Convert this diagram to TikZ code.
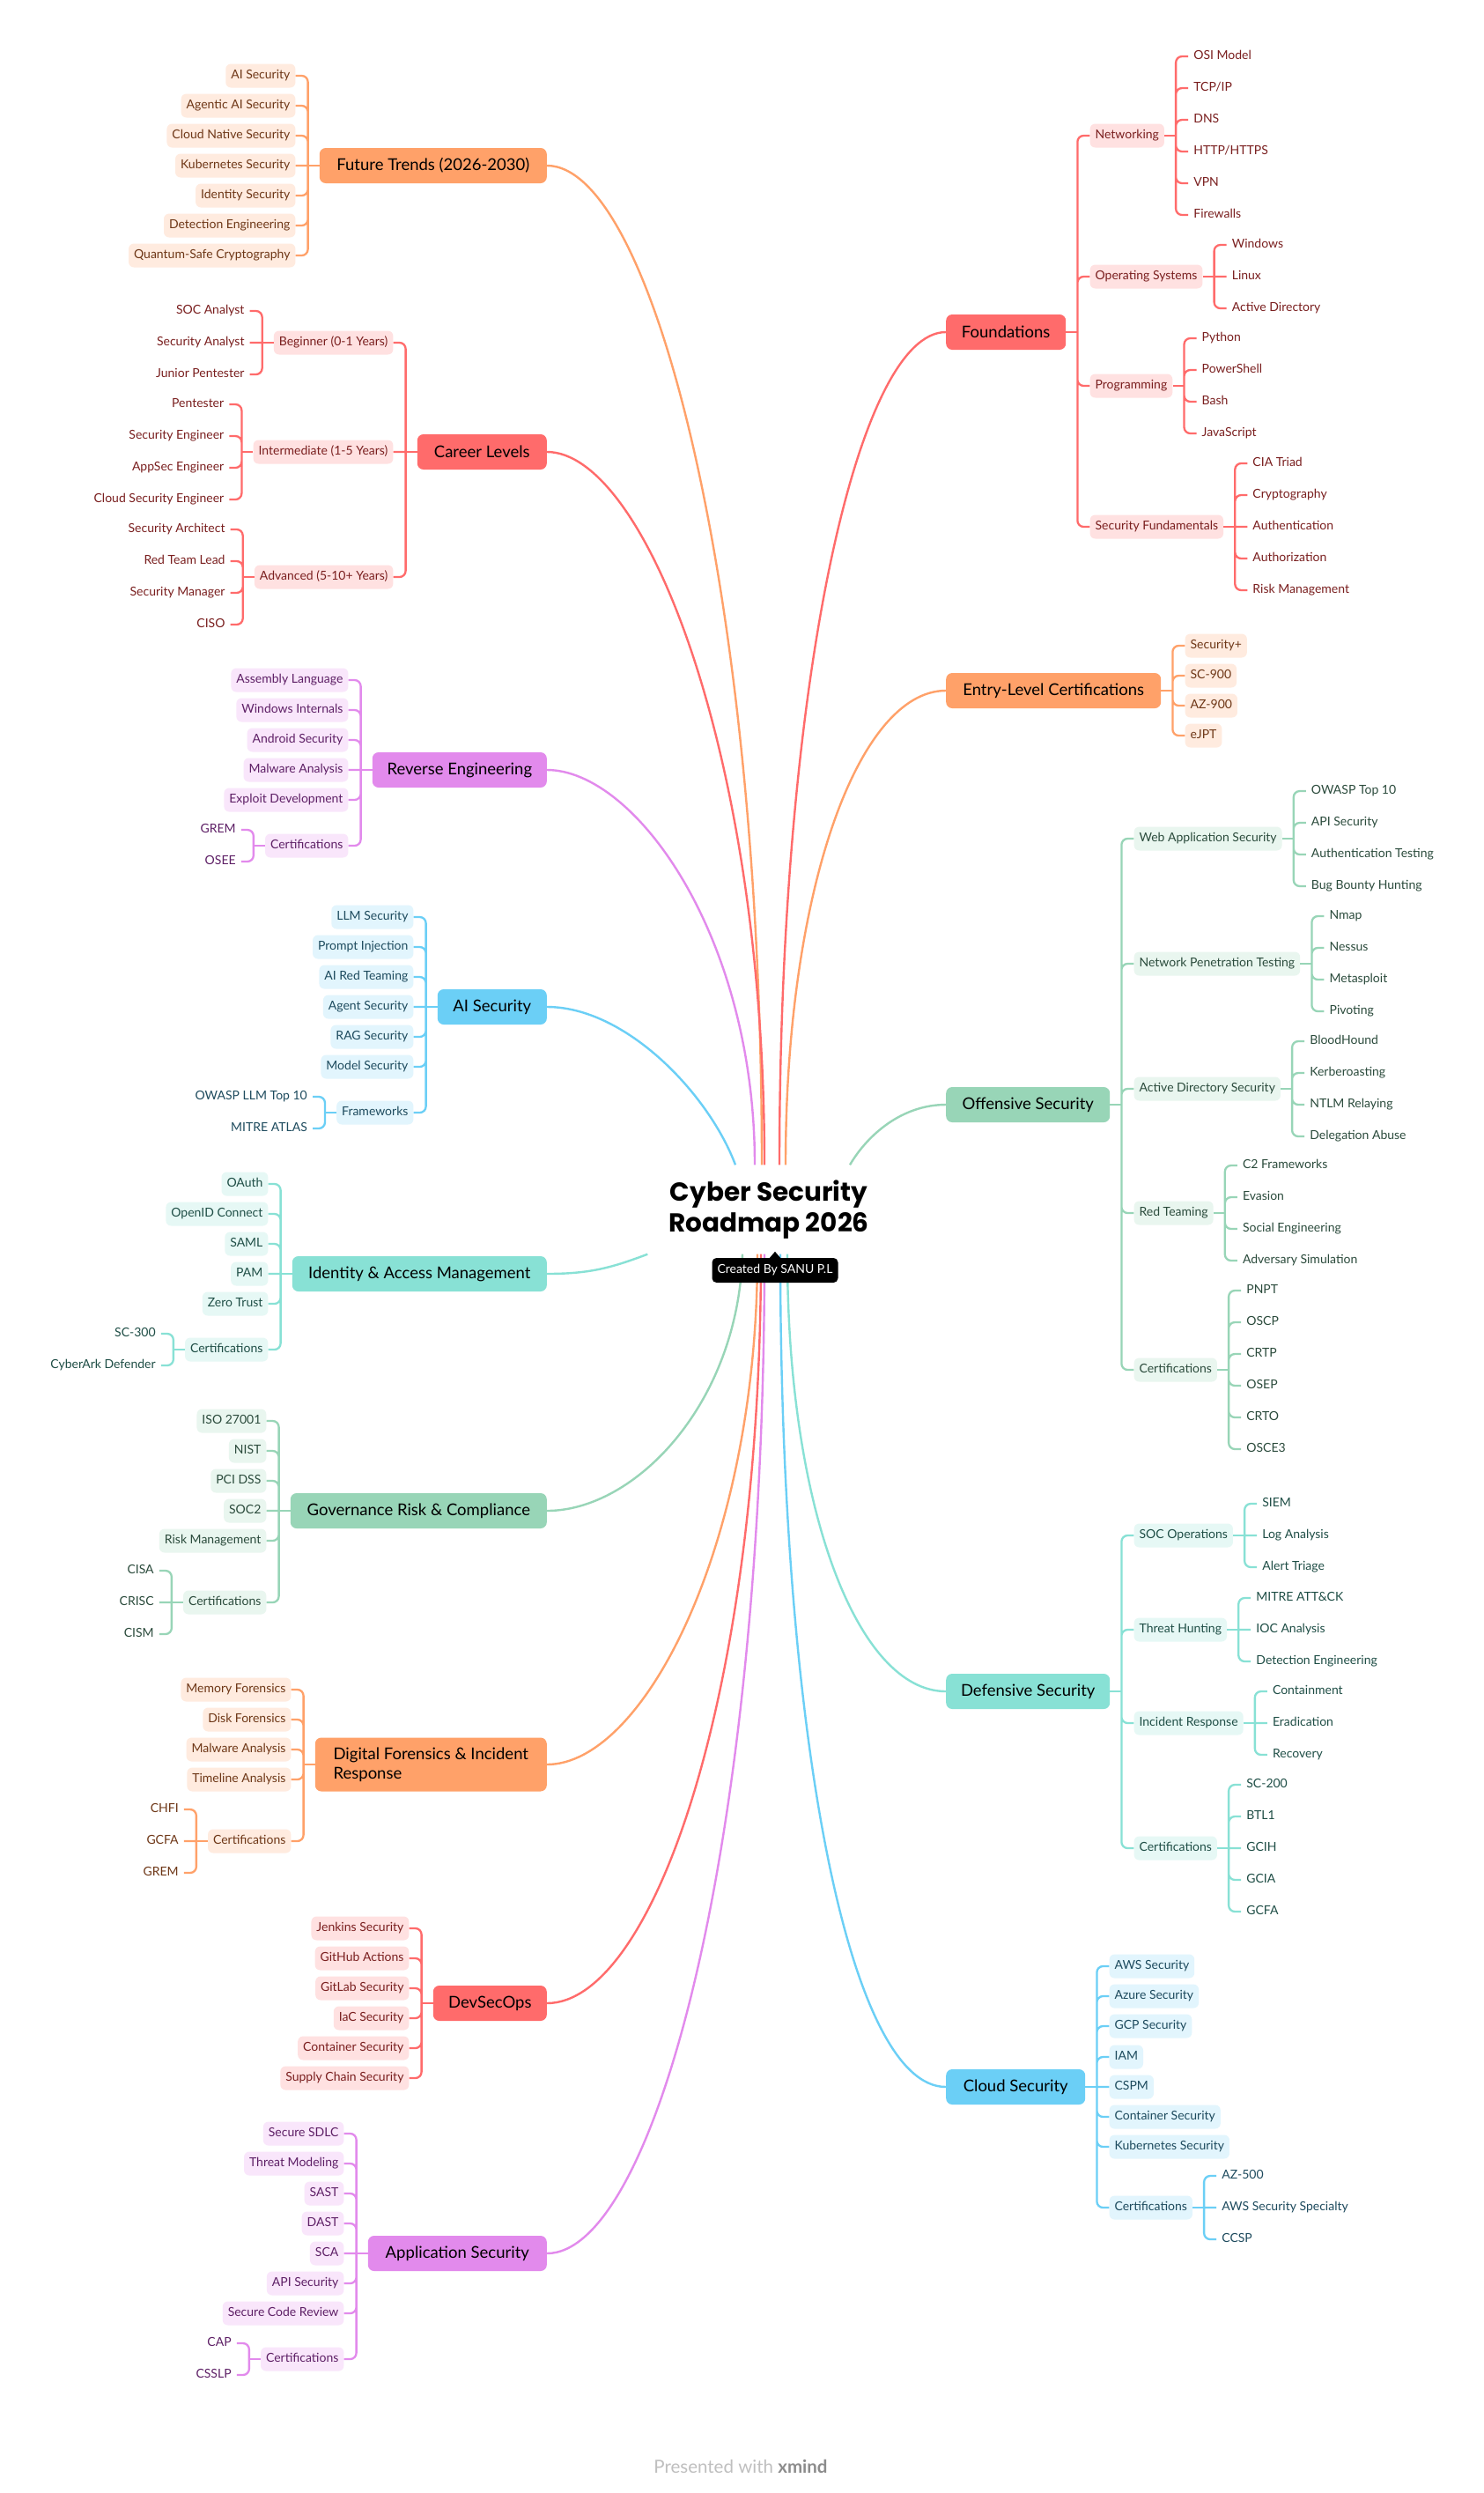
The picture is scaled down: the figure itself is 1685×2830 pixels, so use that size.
\documentclass[tikz,border=0pt]{standalone}
\usepackage{fontspec}
\setmainfont{Lato}
\newfontfamily\titlefont{Poppins}
\definecolor{Rm}{HTML}{FF6B6B}\definecolor{Rl}{HTML}{FFE1E1}\definecolor{Rt}{HTML}{7A1F1F}
\definecolor{Om}{HTML}{FFA169}\definecolor{Ol}{HTML}{FFEBDF}\definecolor{Ot}{HTML}{6E3717}
\definecolor{Pm}{HTML}{E28AEC}\definecolor{Pl}{HTML}{F9E6FB}\definecolor{Pt}{HTML}{5E2066}
\definecolor{Bm}{HTML}{6BCFF6}\definecolor{Bl}{HTML}{E2F5FD}\definecolor{Bt}{HTML}{1E4B5E}
\definecolor{Tm}{HTML}{88E1D5}\definecolor{Tl}{HTML}{E6F8F5}\definecolor{Tt}{HTML}{1F4E46}
\definecolor{Gm}{HTML}{98D5B7}\definecolor{Gl}{HTML}{E9F6EF}\definecolor{Gt}{HTML}{2B4B3C}
\newcommand\topicsize{\fontsize{18.5}{22}\selectfont}
\newcommand\itemsize{\fontsize{14}{17}\selectfont}

\begin{document}
\begin{tikzpicture}[x=1pt,y=-1pt,
  topic/.style={fill=#1m,rounded corners=7pt,minimum height=40pt,inner xsep=15pt,font=\topicsize},
  pill/.style={fill=#1l,text=#1t,rounded corners=6pt,minimum height=27pt,inner xsep=6pt,inner ysep=0pt,text height=11pt,text depth=3.5pt,font=\itemsize},
  leaf/.style={text=#1t,inner xsep=6pt,inner ysep=0pt,text height=11pt,text depth=3.5pt,font=\itemsize},
  ln/.style={draw=#1m,line width=2.3pt,rounded corners=7pt},
  bough/.style={draw=#1m,line width=2.4pt}]
\fill[white] (0,0) rectangle (1685,2830);
\useasboundingbox (0,0) rectangle (1685,2830);

\node[font=\titlefont\bfseries\fontsize{29.5}{35}\selectfont,align=center,minimum width=275pt,minimum height=101pt] (root) at (873,1373) {Cyber Security\\Roadmap 2026};

\node[topic=O,anchor=east,minimum width=258pt] (ft) at (621,188) {Future Trends (2026-2030)};
\node[pill=O,anchor=east,xshift=-27pt] (ft1) at (ft.west |- 0,86) {AI Security};
\node[pill=O,anchor=east,xshift=-27pt] (ft2) at (ft.west |- 0,120) {Agentic AI Security};
\node[pill=O,anchor=east,xshift=-27pt] (ft3) at (ft.west |- 0,154) {Cloud Native Security};
\node[pill=O,anchor=east,xshift=-27pt] (ft4) at (ft.west |- 0,188) {Kubernetes Security};
\node[pill=O,anchor=east,xshift=-27pt] (ft5) at (ft.west |- 0,222) {Identity Security};
\node[pill=O,anchor=east,xshift=-27pt] (ft6) at (ft.west |- 0,256) {Detection Engineering};
\node[pill=O,anchor=east,xshift=-27pt] (ft7) at (ft.west |- 0,290) {Quantum-Safe Cryptography};
\draw[ln=O] (ft.west) -- ++(-13,0) coordinate (ftj);
\draw[ln=O] (ft1.east) -| (ftj) (ft2.east) -| (ftj) (ft3.east) -| (ftj) (ft4.east) -- (ftj) (ft5.east) -| (ftj) (ft6.east) -| (ftj) (ft7.east) -| (ftj);

\node[topic=R,anchor=east,minimum width=147pt] (cl) at (621,513) {Career Levels};
\node[pill=R,anchor=east,xshift=-27pt] (cl1) at (cl.west |- 0,389) {Beginner (0-1 Years)};
\node[pill=R,anchor=east,xshift=-27pt] (cl2) at (cl.west |- 0,513) {Intermediate (1-5 Years)};
\node[pill=R,anchor=east,xshift=-27pt] (cl3) at (cl.west |- 0,655) {Advanced (5-10+ Years)};
\node[leaf=R,anchor=east,xshift=-27pt] (cl1a) at (cl1.west |- 0,353) {SOC Analyst};
\node[leaf=R,anchor=east,xshift=-27pt] (cl1b) at (cl1.west |- 0,389) {Security Analyst};
\node[leaf=R,anchor=east,xshift=-27pt] (cl1c) at (cl1.west |- 0,425) {Junior Pentester};
\node[leaf=R,anchor=east,xshift=-27pt] (cl2a) at (cl2.west |- 0,459) {Pentester};
\node[leaf=R,anchor=east,xshift=-27pt] (cl2b) at (cl2.west |- 0,495) {Security Engineer};
\node[leaf=R,anchor=east,xshift=-27pt] (cl2c) at (cl2.west |- 0,531) {AppSec Engineer};
\node[leaf=R,anchor=east,xshift=-27pt] (cl2d) at (cl2.west |- 0,567) {Cloud Security Engineer};
\node[leaf=R,anchor=east,xshift=-27pt] (cl3a) at (cl3.west |- 0,601) {Security Architect};
\node[leaf=R,anchor=east,xshift=-27pt] (cl3b) at (cl3.west |- 0,637) {Red Team Lead};
\node[leaf=R,anchor=east,xshift=-27pt] (cl3c) at (cl3.west |- 0,673) {Security Manager};
\node[leaf=R,anchor=east,xshift=-27pt] (cl3d) at (cl3.west |- 0,709) {CISO};
\draw[ln=R] (cl.west) -- ++(-13,0) coordinate (clj);
\draw[ln=R] (cl1.east) -| (clj) (cl2.east) -- (clj) (cl3.east) -| (clj);
\draw[ln=R] (cl1.west) -- ++(-13,0) coordinate (cl1j);
\draw[ln=R] (cl1a.east) -| (cl1j) (cl1b.east) -- (cl1j) (cl1c.east) -| (cl1j);
\draw[ln=R] (cl2.west) -- ++(-13,0) coordinate (cl2j);
\draw[ln=R] (cl2a.east) -| (cl2j) (cl2b.east) -| (cl2j) (cl2c.east) -| (cl2j) (cl2d.east) -| (cl2j);
\draw[ln=R] (cl3.west) -- ++(-13,0) coordinate (cl3j);
\draw[ln=R] (cl3a.east) -| (cl3j) (cl3b.east) -| (cl3j) (cl3c.east) -| (cl3j) (cl3d.east) -| (cl3j);

\node[topic=P,anchor=east,minimum width=198pt] (re) at (621,874) {Reverse Engineering};
\node[pill=P,anchor=east,xshift=-27pt] (re1) at (re.west |- 0,772) {Assembly Language};
\node[pill=P,anchor=east,xshift=-27pt] (re2) at (re.west |- 0,806) {Windows Internals};
\node[pill=P,anchor=east,xshift=-27pt] (re3) at (re.west |- 0,840) {Android Security};
\node[pill=P,anchor=east,xshift=-27pt] (re4) at (re.west |- 0,874) {Malware Analysis};
\node[pill=P,anchor=east,xshift=-27pt] (re5) at (re.west |- 0,908) {Exploit Development};
\node[pill=P,anchor=east,xshift=-27pt] (re6) at (re.west |- 0,960) {Certifications};
\node[leaf=P,anchor=east,xshift=-27pt] (re6a) at (re6.west |- 0,942) {GREM};
\node[leaf=P,anchor=east,xshift=-27pt] (re6b) at (re6.west |- 0,978) {OSEE};
\draw[ln=P] (re.west) -- ++(-13,0) coordinate (rej);
\draw[ln=P] (re1.east) -| (rej) (re2.east) -| (rej) (re3.east) -| (rej) (re4.east) -- (rej) (re5.east) -| (rej) (re6.east) -| (rej);
\draw[ln=P] (re6.west) -- ++(-13,0) coordinate (re6j);
\draw[ln=P] (re6a.east) -| (re6j) (re6b.east) -| (re6j);

\node[topic=B,anchor=east,minimum width=124pt] (ai) at (621,1143) {AI Security};
\node[pill=B,anchor=east,xshift=-27pt] (ai1) at (ai.west |- 0,1041) {LLM Security};
\node[pill=B,anchor=east,xshift=-27pt] (ai2) at (ai.west |- 0,1075) {Prompt Injection};
\node[pill=B,anchor=east,xshift=-27pt] (ai3) at (ai.west |- 0,1109) {AI Red Teaming};
\node[pill=B,anchor=east,xshift=-27pt] (ai4) at (ai.west |- 0,1143) {Agent Security};
\node[pill=B,anchor=east,xshift=-27pt] (ai5) at (ai.west |- 0,1177) {RAG Security};
\node[pill=B,anchor=east,xshift=-27pt] (ai6) at (ai.west |- 0,1211) {Model Security};
\node[pill=B,anchor=east,xshift=-27pt] (ai7) at (ai.west |- 0,1263) {Frameworks};
\node[leaf=B,anchor=east,xshift=-27pt] (ai7a) at (ai7.west |- 0,1245) {OWASP LLM Top 10};
\node[leaf=B,anchor=east,xshift=-27pt] (ai7b) at (ai7.west |- 0,1281) {MITRE ATLAS};
\draw[ln=B] (ai.west) -- ++(-13,0) coordinate (aij);
\draw[ln=B] (ai1.east) -| (aij) (ai2.east) -| (aij) (ai3.east) -| (aij) (ai4.east) -- (aij) (ai5.east) -| (aij) (ai6.east) -| (aij) (ai7.east) -| (aij);
\draw[ln=B] (ai7.west) -- ++(-13,0) coordinate (ai7j);
\draw[ln=B] (ai7a.east) -| (ai7j) (ai7b.east) -| (ai7j);

\node[topic=T,anchor=east,minimum width=289pt] (iam) at (621,1446) {Identity \& Access Management};
\node[pill=T,anchor=east,xshift=-27pt] (iam1) at (iam.west |- 0,1344) {OAuth};
\node[pill=T,anchor=east,xshift=-27pt] (iam2) at (iam.west |- 0,1378) {OpenID Connect};
\node[pill=T,anchor=east,xshift=-27pt] (iam3) at (iam.west |- 0,1412) {SAML};
\node[pill=T,anchor=east,xshift=-27pt] (iam4) at (iam.west |- 0,1446) {PAM};
\node[pill=T,anchor=east,xshift=-27pt] (iam5) at (iam.west |- 0,1480) {Zero Trust};
\node[pill=T,anchor=east,xshift=-27pt] (iam6) at (iam.west |- 0,1532) {Certifications};
\node[leaf=T,anchor=east,xshift=-27pt] (iam6a) at (iam6.west |- 0,1514) {SC-300};
\node[leaf=T,anchor=east,xshift=-27pt] (iam6b) at (iam6.west |- 0,1550) {CyberArk Defender};
\draw[ln=T] (iam.west) -- ++(-13,0) coordinate (iamj);
\draw[ln=T] (iam1.east) -| (iamj) (iam2.east) -| (iamj) (iam3.east) -| (iamj) (iam4.east) -- (iamj) (iam5.east) -| (iamj) (iam6.east) -| (iamj);
\draw[ln=T] (iam6.west) -- ++(-13,0) coordinate (iam6j);
\draw[ln=T] (iam6a.east) -| (iam6j) (iam6b.east) -| (iam6j);

\node[topic=G,anchor=east,minimum width=291pt] (grc) at (621,1715) {Governance Risk \& Compliance};
\node[pill=G,anchor=east,xshift=-27pt] (grc1) at (grc.west |- 0,1613) {ISO 27001};
\node[pill=G,anchor=east,xshift=-27pt] (grc2) at (grc.west |- 0,1647) {NIST};
\node[pill=G,anchor=east,xshift=-27pt] (grc3) at (grc.west |- 0,1681) {PCI DSS};
\node[pill=G,anchor=east,xshift=-27pt] (grc4) at (grc.west |- 0,1715) {SOC2};
\node[pill=G,anchor=east,xshift=-27pt] (grc5) at (grc.west |- 0,1749) {Risk Management};
\node[pill=G,anchor=east,xshift=-27pt] (grc6) at (grc.west |- 0,1819) {Certifications};
\node[leaf=G,anchor=east,xshift=-27pt] (grc6a) at (grc6.west |- 0,1783) {CISA};
\node[leaf=G,anchor=east,xshift=-27pt] (grc6b) at (grc6.west |- 0,1819) {CRISC};
\node[leaf=G,anchor=east,xshift=-27pt] (grc6c) at (grc6.west |- 0,1855) {CISM};
\draw[ln=G] (grc.west) -- ++(-13,0) coordinate (grcj);
\draw[ln=G] (grc1.east) -| (grcj) (grc2.east) -| (grcj) (grc3.east) -| (grcj) (grc4.east) -- (grcj) (grc5.east) -| (grcj) (grc6.east) -| (grcj);
\draw[ln=G] (grc6.west) -- ++(-13,0) coordinate (grc6j);
\draw[ln=G] (grc6a.east) -| (grc6j) (grc6b.east) -- (grc6j) (grc6c.east) -| (grc6j);

\node[topic=O,anchor=east,minimum width=263pt,minimum height=61pt,align=left] (df) at (621,2003) {Digital Forensics \& Incident\\Response};
\node[pill=O,anchor=east,xshift=-27pt] (df1) at (df.west |- 0,1918) {Memory Forensics};
\node[pill=O,anchor=east,xshift=-27pt] (df2) at (df.west |- 0,1952) {Disk Forensics};
\node[pill=O,anchor=east,xshift=-27pt] (df3) at (df.west |- 0,1986) {Malware Analysis};
\node[pill=O,anchor=east,xshift=-27pt] (df4) at (df.west |- 0,2020) {Timeline Analysis};
\node[pill=O,anchor=east,xshift=-27pt] (df5) at (df.west |- 0,2090) {Certifications};
\node[leaf=O,anchor=east,xshift=-27pt] (df5a) at (df5.west |- 0,2054) {CHFI};
\node[leaf=O,anchor=east,xshift=-27pt] (df5b) at (df5.west |- 0,2090) {GCFA};
\node[leaf=O,anchor=east,xshift=-27pt] (df5c) at (df5.west |- 0,2126) {GREM};
\draw[ln=O] (df.west) -- ++(-13,0) coordinate (dfj);
\draw[ln=O] (df1.east) -| (dfj) (df2.east) -| (dfj) (df3.east) -| (dfj) (df4.east) -| (dfj) (df5.east) -| (dfj);
\draw[ln=O] (df5.west) -- ++(-13,0) coordinate (df5j);
\draw[ln=O] (df5a.east) -| (df5j) (df5b.east) -- (df5j) (df5c.east) -| (df5j);

\node[topic=R,anchor=east,minimum width=129pt] (dso) at (621,2274) {DevSecOps};
\node[pill=R,anchor=east,xshift=-27pt] (dso1) at (dso.west |- 0,2189) {Jenkins Security};
\node[pill=R,anchor=east,xshift=-27pt] (dso2) at (dso.west |- 0,2223) {GitHub Actions};
\node[pill=R,anchor=east,xshift=-27pt] (dso3) at (dso.west |- 0,2257) {GitLab Security};
\node[pill=R,anchor=east,xshift=-27pt] (dso4) at (dso.west |- 0,2291) {IaC Security};
\node[pill=R,anchor=east,xshift=-27pt] (dso5) at (dso.west |- 0,2325) {Container Security};
\node[pill=R,anchor=east,xshift=-27pt] (dso6) at (dso.west |- 0,2359) {Supply Chain Security};
\draw[ln=R] (dso.west) -- ++(-13,0) coordinate (dsoj);
\draw[ln=R] (dso1.east) -| (dsoj) (dso2.east) -| (dsoj) (dso3.east) -| (dsoj) (dso4.east) -| (dsoj) (dso5.east) -| (dsoj) (dso6.east) -| (dsoj);

\node[topic=P,anchor=east,minimum width=203pt] (aps) at (621,2558) {Application Security};
\node[pill=P,anchor=east,xshift=-27pt] (aps1) at (aps.west |- 0,2422) {Secure SDLC};
\node[pill=P,anchor=east,xshift=-27pt] (aps2) at (aps.west |- 0,2456) {Threat Modeling};
\node[pill=P,anchor=east,xshift=-27pt] (aps3) at (aps.west |- 0,2490) {SAST};
\node[pill=P,anchor=east,xshift=-27pt] (aps4) at (aps.west |- 0,2524) {DAST};
\node[pill=P,anchor=east,xshift=-27pt] (aps5) at (aps.west |- 0,2558) {SCA};
\node[pill=P,anchor=east,xshift=-27pt] (aps6) at (aps.west |- 0,2592) {API Security};
\node[pill=P,anchor=east,xshift=-27pt] (aps7) at (aps.west |- 0,2626) {Secure Code Review};
\node[pill=P,anchor=east,xshift=-27pt] (aps8) at (aps.west |- 0,2678) {Certifications};
\node[leaf=P,anchor=east,xshift=-27pt] (aps8a) at (aps8.west |- 0,2660) {CAP};
\node[leaf=P,anchor=east,xshift=-27pt] (aps8b) at (aps8.west |- 0,2696) {CSSLP};
\draw[ln=P] (aps.west) -- ++(-13,0) coordinate (apsj);
\draw[ln=P] (aps1.east) -| (apsj) (aps2.east) -| (apsj) (aps3.east) -| (apsj) (aps4.east) -| (apsj) (aps5.east) -- (apsj) (aps6.east) -| (apsj) (aps7.east) -| (apsj) (aps8.east) -| (apsj);
\draw[ln=P] (aps8.west) -- ++(-13,0) coordinate (aps8j);
\draw[ln=P] (aps8a.east) -| (aps8j) (aps8b.east) -| (aps8j);

\node[topic=R,anchor=west,minimum width=136pt] (fo) at (1074,377) {Foundations};
\node[pill=R,anchor=west,xshift=27pt] (fo1) at (fo.east |- 0,154) {Networking};
\node[pill=R,anchor=west,xshift=27pt] (fo2) at (fo.east |- 0,314) {Operating Systems};
\node[pill=R,anchor=west,xshift=27pt] (fo3) at (fo.east |- 0,438) {Programming};
\node[pill=R,anchor=west,xshift=27pt] (fo4) at (fo.east |- 0,598) {Security Fundamentals};
\node[leaf=R,anchor=west,xshift=27pt] (fo1a) at (fo1.east |- 0,64) {OSI Model};
\node[leaf=R,anchor=west,xshift=27pt] (fo1b) at (fo1.east |- 0,100) {TCP/IP};
\node[leaf=R,anchor=west,xshift=27pt] (fo1c) at (fo1.east |- 0,136) {DNS};
\node[leaf=R,anchor=west,xshift=27pt] (fo1d) at (fo1.east |- 0,172) {HTTP/HTTPS};
\node[leaf=R,anchor=west,xshift=27pt] (fo1e) at (fo1.east |- 0,208) {VPN};
\node[leaf=R,anchor=west,xshift=27pt] (fo1f) at (fo1.east |- 0,244) {Firewalls};
\node[leaf=R,anchor=west,xshift=27pt] (fo2a) at (fo2.east |- 0,278) {Windows};
\node[leaf=R,anchor=west,xshift=27pt] (fo2b) at (fo2.east |- 0,314) {Linux};
\node[leaf=R,anchor=west,xshift=27pt] (fo2c) at (fo2.east |- 0,350) {Active Directory};
\node[leaf=R,anchor=west,xshift=27pt] (fo3a) at (fo3.east |- 0,384) {Python};
\node[leaf=R,anchor=west,xshift=27pt] (fo3b) at (fo3.east |- 0,420) {PowerShell};
\node[leaf=R,anchor=west,xshift=27pt] (fo3c) at (fo3.east |- 0,456) {Bash};
\node[leaf=R,anchor=west,xshift=27pt] (fo3d) at (fo3.east |- 0,492) {JavaScript};
\node[leaf=R,anchor=west,xshift=27pt] (fo4a) at (fo4.east |- 0,526) {CIA Triad};
\node[leaf=R,anchor=west,xshift=27pt] (fo4b) at (fo4.east |- 0,562) {Cryptography};
\node[leaf=R,anchor=west,xshift=27pt] (fo4c) at (fo4.east |- 0,598) {Authentication};
\node[leaf=R,anchor=west,xshift=27pt] (fo4d) at (fo4.east |- 0,634) {Authorization};
\node[leaf=R,anchor=west,xshift=27pt] (fo4e) at (fo4.east |- 0,670) {Risk Management};
\draw[ln=R] (fo.east) -- ++(13,0) coordinate (foj);
\draw[ln=R] (fo1.west) -| (foj) (fo2.west) -| (foj) (fo3.west) -| (foj) (fo4.west) -| (foj);
\draw[ln=R] (fo1.east) -- ++(13,0) coordinate (fo1j);
\draw[ln=R] (fo1a.west) -| (fo1j) (fo1b.west) -| (fo1j) (fo1c.west) -| (fo1j) (fo1d.west) -| (fo1j) (fo1e.west) -| (fo1j) (fo1f.west) -| (fo1j);
\draw[ln=R] (fo2.east) -- ++(13,0) coordinate (fo2j);
\draw[ln=R] (fo2a.west) -| (fo2j) (fo2b.west) -- (fo2j) (fo2c.west) -| (fo2j);
\draw[ln=R] (fo3.east) -- ++(13,0) coordinate (fo3j);
\draw[ln=R] (fo3a.west) -| (fo3j) (fo3b.west) -| (fo3j) (fo3c.west) -| (fo3j) (fo3d.west) -| (fo3j);
\draw[ln=R] (fo4.east) -- ++(13,0) coordinate (fo4j);
\draw[ln=R] (fo4a.west) -| (fo4j) (fo4b.west) -| (fo4j) (fo4c.west) -- (fo4j) (fo4d.west) -| (fo4j) (fo4e.west) -| (fo4j);

\node[topic=O,anchor=west,minimum width=244pt] (el) at (1074,784) {Entry-Level Certifications};
\node[pill=O,anchor=west,xshift=27pt] (el1) at (el.east |- 0,733) {Security+};
\node[pill=O,anchor=west,xshift=27pt] (el2) at (el.east |- 0,767) {SC-900};
\node[pill=O,anchor=west,xshift=27pt] (el3) at (el.east |- 0,801) {AZ-900};
\node[pill=O,anchor=west,xshift=27pt] (el4) at (el.east |- 0,835) {eJPT};
\draw[ln=O] (el.east) -- ++(13,0) coordinate (elj);
\draw[ln=O] (el1.west) -| (elj) (el2.west) -| (elj) (el3.west) -| (elj) (el4.west) -| (elj);

\node[topic=G,anchor=west,minimum width=186pt] (of) at (1074,1254) {Offensive Security};
\node[pill=G,anchor=west,xshift=27pt] (of1) at (of.east |- 0,952) {Web Application Security};
\node[pill=G,anchor=west,xshift=27pt] (of2) at (of.east |- 0,1094) {Network Penetration Testing};
\node[pill=G,anchor=west,xshift=27pt] (of3) at (of.east |- 0,1236) {Active Directory Security};
\node[pill=G,anchor=west,xshift=27pt] (of4) at (of.east |- 0,1377) {Red Teaming};
\node[pill=G,anchor=west,xshift=27pt] (of5) at (of.east |- 0,1555) {Certifications};
\node[leaf=G,anchor=west,xshift=27pt] (of1a) at (of1.east |- 0,898) {OWASP Top 10};
\node[leaf=G,anchor=west,xshift=27pt] (of1b) at (of1.east |- 0,934) {API Security};
\node[leaf=G,anchor=west,xshift=27pt] (of1c) at (of1.east |- 0,970) {Authentication Testing};
\node[leaf=G,anchor=west,xshift=27pt] (of1d) at (of1.east |- 0,1006) {Bug Bounty Hunting};
\node[leaf=G,anchor=west,xshift=27pt] (of2a) at (of2.east |- 0,1040) {Nmap};
\node[leaf=G,anchor=west,xshift=27pt] (of2b) at (of2.east |- 0,1076) {Nessus};
\node[leaf=G,anchor=west,xshift=27pt] (of2c) at (of2.east |- 0,1112) {Metasploit};
\node[leaf=G,anchor=west,xshift=27pt] (of2d) at (of2.east |- 0,1148) {Pivoting};
\node[leaf=G,anchor=west,xshift=27pt] (of3a) at (of3.east |- 0,1182) {BloodHound};
\node[leaf=G,anchor=west,xshift=27pt] (of3b) at (of3.east |- 0,1218) {Kerberoasting};
\node[leaf=G,anchor=west,xshift=27pt] (of3c) at (of3.east |- 0,1254) {NTLM Relaying};
\node[leaf=G,anchor=west,xshift=27pt] (of3d) at (of3.east |- 0,1290) {Delegation Abuse};
\node[leaf=G,anchor=west,xshift=27pt] (of4a) at (of4.east |- 0,1323) {C2 Frameworks};
\node[leaf=G,anchor=west,xshift=27pt] (of4b) at (of4.east |- 0,1359) {Evasion};
\node[leaf=G,anchor=west,xshift=27pt] (of4c) at (of4.east |- 0,1395) {Social Engineering};
\node[leaf=G,anchor=west,xshift=27pt] (of4d) at (of4.east |- 0,1431) {Adversary Simulation};
\node[leaf=G,anchor=west,xshift=27pt] (of5a) at (of5.east |- 0,1465) {PNPT};
\node[leaf=G,anchor=west,xshift=27pt] (of5b) at (of5.east |- 0,1501) {OSCP};
\node[leaf=G,anchor=west,xshift=27pt] (of5c) at (of5.east |- 0,1537) {CRTP};
\node[leaf=G,anchor=west,xshift=27pt] (of5d) at (of5.east |- 0,1573) {OSEP};
\node[leaf=G,anchor=west,xshift=27pt] (of5e) at (of5.east |- 0,1609) {CRTO};
\node[leaf=G,anchor=west,xshift=27pt] (of5f) at (of5.east |- 0,1645) {OSCE3};
\draw[ln=G] (of.east) -- ++(13,0) coordinate (ofj);
\draw[ln=G] (of1.west) -| (ofj) (of2.west) -| (ofj) (of3.west) -| (ofj) (of4.west) -| (ofj) (of5.west) -| (ofj);
\draw[ln=G] (of1.east) -- ++(13,0) coordinate (of1j);
\draw[ln=G] (of1a.west) -| (of1j) (of1b.west) -| (of1j) (of1c.west) -| (of1j) (of1d.west) -| (of1j);
\draw[ln=G] (of2.east) -- ++(13,0) coordinate (of2j);
\draw[ln=G] (of2a.west) -| (of2j) (of2b.west) -| (of2j) (of2c.west) -| (of2j) (of2d.west) -| (of2j);
\draw[ln=G] (of3.east) -- ++(13,0) coordinate (of3j);
\draw[ln=G] (of3a.west) -| (of3j) (of3b.west) -| (of3j) (of3c.west) -| (of3j) (of3d.west) -| (of3j);
\draw[ln=G] (of4.east) -- ++(13,0) coordinate (of4j);
\draw[ln=G] (of4a.west) -| (of4j) (of4b.west) -| (of4j) (of4c.west) -| (of4j) (of4d.west) -| (of4j);
\draw[ln=G] (of5.east) -- ++(13,0) coordinate (of5j);
\draw[ln=G] (of5a.west) -| (of5j) (of5b.west) -| (of5j) (of5c.west) -| (of5j) (of5d.west) -| (of5j) (of5e.west) -| (of5j) (of5f.west) -| (of5j);

\node[topic=T,anchor=west,minimum width=186pt] (de) at (1074,1920) {Defensive Security};
\node[pill=T,anchor=west,xshift=27pt] (de1) at (de.east |- 0,1743) {SOC Operations};
\node[pill=T,anchor=west,xshift=27pt] (de2) at (de.east |- 0,1850) {Threat Hunting};
\node[pill=T,anchor=west,xshift=27pt] (de3) at (de.east |- 0,1956) {Incident Response};
\node[pill=T,anchor=west,xshift=27pt] (de4) at (de.east |- 0,2098) {Certifications};
\node[leaf=T,anchor=west,xshift=27pt] (de1a) at (de1.east |- 0,1707) {SIEM};
\node[leaf=T,anchor=west,xshift=27pt] (de1b) at (de1.east |- 0,1743) {Log Analysis};
\node[leaf=T,anchor=west,xshift=27pt] (de1c) at (de1.east |- 0,1779) {Alert Triage};
\node[leaf=T,anchor=west,xshift=27pt] (de2a) at (de2.east |- 0,1814) {MITRE ATT\&CK};
\node[leaf=T,anchor=west,xshift=27pt] (de2b) at (de2.east |- 0,1850) {IOC Analysis};
\node[leaf=T,anchor=west,xshift=27pt] (de2c) at (de2.east |- 0,1886) {Detection Engineering};
\node[leaf=T,anchor=west,xshift=27pt] (de3a) at (de3.east |- 0,1920) {Containment};
\node[leaf=T,anchor=west,xshift=27pt] (de3b) at (de3.east |- 0,1956) {Eradication};
\node[leaf=T,anchor=west,xshift=27pt] (de3c) at (de3.east |- 0,1992) {Recovery};
\node[leaf=T,anchor=west,xshift=27pt] (de4a) at (de4.east |- 0,2026) {SC-200};
\node[leaf=T,anchor=west,xshift=27pt] (de4b) at (de4.east |- 0,2062) {BTL1};
\node[leaf=T,anchor=west,xshift=27pt] (de4c) at (de4.east |- 0,2098) {GCIH};
\node[leaf=T,anchor=west,xshift=27pt] (de4d) at (de4.east |- 0,2134) {GCIA};
\node[leaf=T,anchor=west,xshift=27pt] (de4e) at (de4.east |- 0,2170) {GCFA};
\draw[ln=T] (de.east) -- ++(13,0) coordinate (dej);
\draw[ln=T] (de1.west) -| (dej) (de2.west) -| (dej) (de3.west) -| (dej) (de4.west) -| (dej);
\draw[ln=T] (de1.east) -- ++(13,0) coordinate (de1j);
\draw[ln=T] (de1a.west) -| (de1j) (de1b.west) -- (de1j) (de1c.west) -| (de1j);
\draw[ln=T] (de2.east) -- ++(13,0) coordinate (de2j);
\draw[ln=T] (de2a.west) -| (de2j) (de2b.west) -- (de2j) (de2c.west) -| (de2j);
\draw[ln=T] (de3.east) -- ++(13,0) coordinate (de3j);
\draw[ln=T] (de3a.west) -| (de3j) (de3b.west) -- (de3j) (de3c.west) -| (de3j);
\draw[ln=T] (de4.east) -- ++(13,0) coordinate (de4j);
\draw[ln=T] (de4a.west) -| (de4j) (de4b.west) -| (de4j) (de4c.west) -- (de4j) (de4d.west) -| (de4j) (de4e.west) -| (de4j);

\node[topic=B,anchor=west,minimum width=158pt] (cs) at (1074,2369) {Cloud Security};
\node[pill=B,anchor=west,xshift=27pt] (cs1) at (cs.east |- 0,2232) {AWS Security};
\node[pill=B,anchor=west,xshift=27pt] (cs2) at (cs.east |- 0,2266) {Azure Security};
\node[pill=B,anchor=west,xshift=27pt] (cs3) at (cs.east |- 0,2300) {GCP Security};
\node[pill=B,anchor=west,xshift=27pt] (cs4) at (cs.east |- 0,2335) {IAM};
\node[pill=B,anchor=west,xshift=27pt] (cs5) at (cs.east |- 0,2369) {CSPM};
\node[pill=B,anchor=west,xshift=27pt] (cs6) at (cs.east |- 0,2403) {Container Security};
\node[pill=B,anchor=west,xshift=27pt] (cs7) at (cs.east |- 0,2437) {Kubernetes Security};
\node[pill=B,anchor=west,xshift=27pt] (cs8) at (cs.east |- 0,2506) {Certifications};
\node[leaf=B,anchor=west,xshift=27pt] (cs8a) at (cs8.east |- 0,2470) {AZ-500};
\node[leaf=B,anchor=west,xshift=27pt] (cs8b) at (cs8.east |- 0,2506) {AWS Security Specialty};
\node[leaf=B,anchor=west,xshift=27pt] (cs8c) at (cs8.east |- 0,2542) {CCSP};
\draw[ln=B] (cs.east) -- ++(13,0) coordinate (csj);
\draw[ln=B] (cs1.west) -| (csj) (cs2.west) -| (csj) (cs3.west) -| (csj) (cs4.west) -| (csj) (cs5.west) -- (csj) (cs6.west) -| (csj) (cs7.west) -| (csj) (cs8.west) -| (csj);
\draw[ln=B] (cs8.east) -- ++(13,0) coordinate (cs8j);
\draw[ln=B] (cs8a.west) -| (cs8j) (cs8b.west) -- (cs8j) (cs8c.west) -| (cs8j);

\draw[bough=O] (ft.east) .. controls +(120,0) and +(0,-650) .. ([xshift=-8pt]root.north);
\draw[bough=R] (cl.east) .. controls +(110,0) and +(0,-470) .. ([xshift=-5pt]root.north);
\draw[bough=P] (re.east) .. controls +(100,0) and +(0,-260) .. ([xshift=-16pt]root.north);
\draw[bough=B] (ai.east) .. controls +(90,0) and +(-30,-80) .. ([xshift=-38pt]root.north);
\draw[bough=T] (iam.east) .. controls +(50,0) and +(-40,15) .. (root.south west);
\draw[bough=G] (grc.east) .. controls +(100,0) and +(-5,170) .. ([xshift=-30pt]root.south);
\draw[bough=O] (df.east) .. controls +(110,0) and +(0,330) .. ([xshift=-13pt]root.south);
\draw[bough=R] (dso.east) .. controls +(120,0) and +(0,500) .. ([xshift=-9pt]root.south);
\draw[bough=P] (aps.east) .. controls +(120,0) and +(0,680) .. ([xshift=-5pt]root.south);
\draw[bough=R] (fo.west) .. controls +(-100,0) and +(0,-550) .. ([xshift=12pt]root.north);
\draw[bough=O] (el.west) .. controls +(-100,0) and +(0,-310) .. ([xshift=19pt]root.north);
\draw[bough=G] (of.west) .. controls +(-50,0) and +(20,-34) .. ([xshift=92pt]root.north);
\draw[bough=T] (de.west) .. controls +(-100,0) and +(0,290) .. ([xshift=21pt]root.south);
\draw[bough=B] (cs.west) .. controls +(-110,0) and +(0,550) .. ([xshift=13pt]root.south);

\node[fill=black,text=white,rounded corners=5pt,minimum width=143pt,minimum height=28pt,inner sep=0pt,font=\fontsize{14}{16}\selectfont] (badge) at (880,1442) {Created By SANU P.L};
\fill ([xshift=-6pt]badge.north) -- ++(6,-7) -- ++(6,7) -- cycle;

\node[text=black!25,font=\fontsize{20.5}{24}\selectfont] (credit) at (841,2800) {Presented with {\color{black!45}\bfseries xmind}};
\end{tikzpicture}
\end{document}
